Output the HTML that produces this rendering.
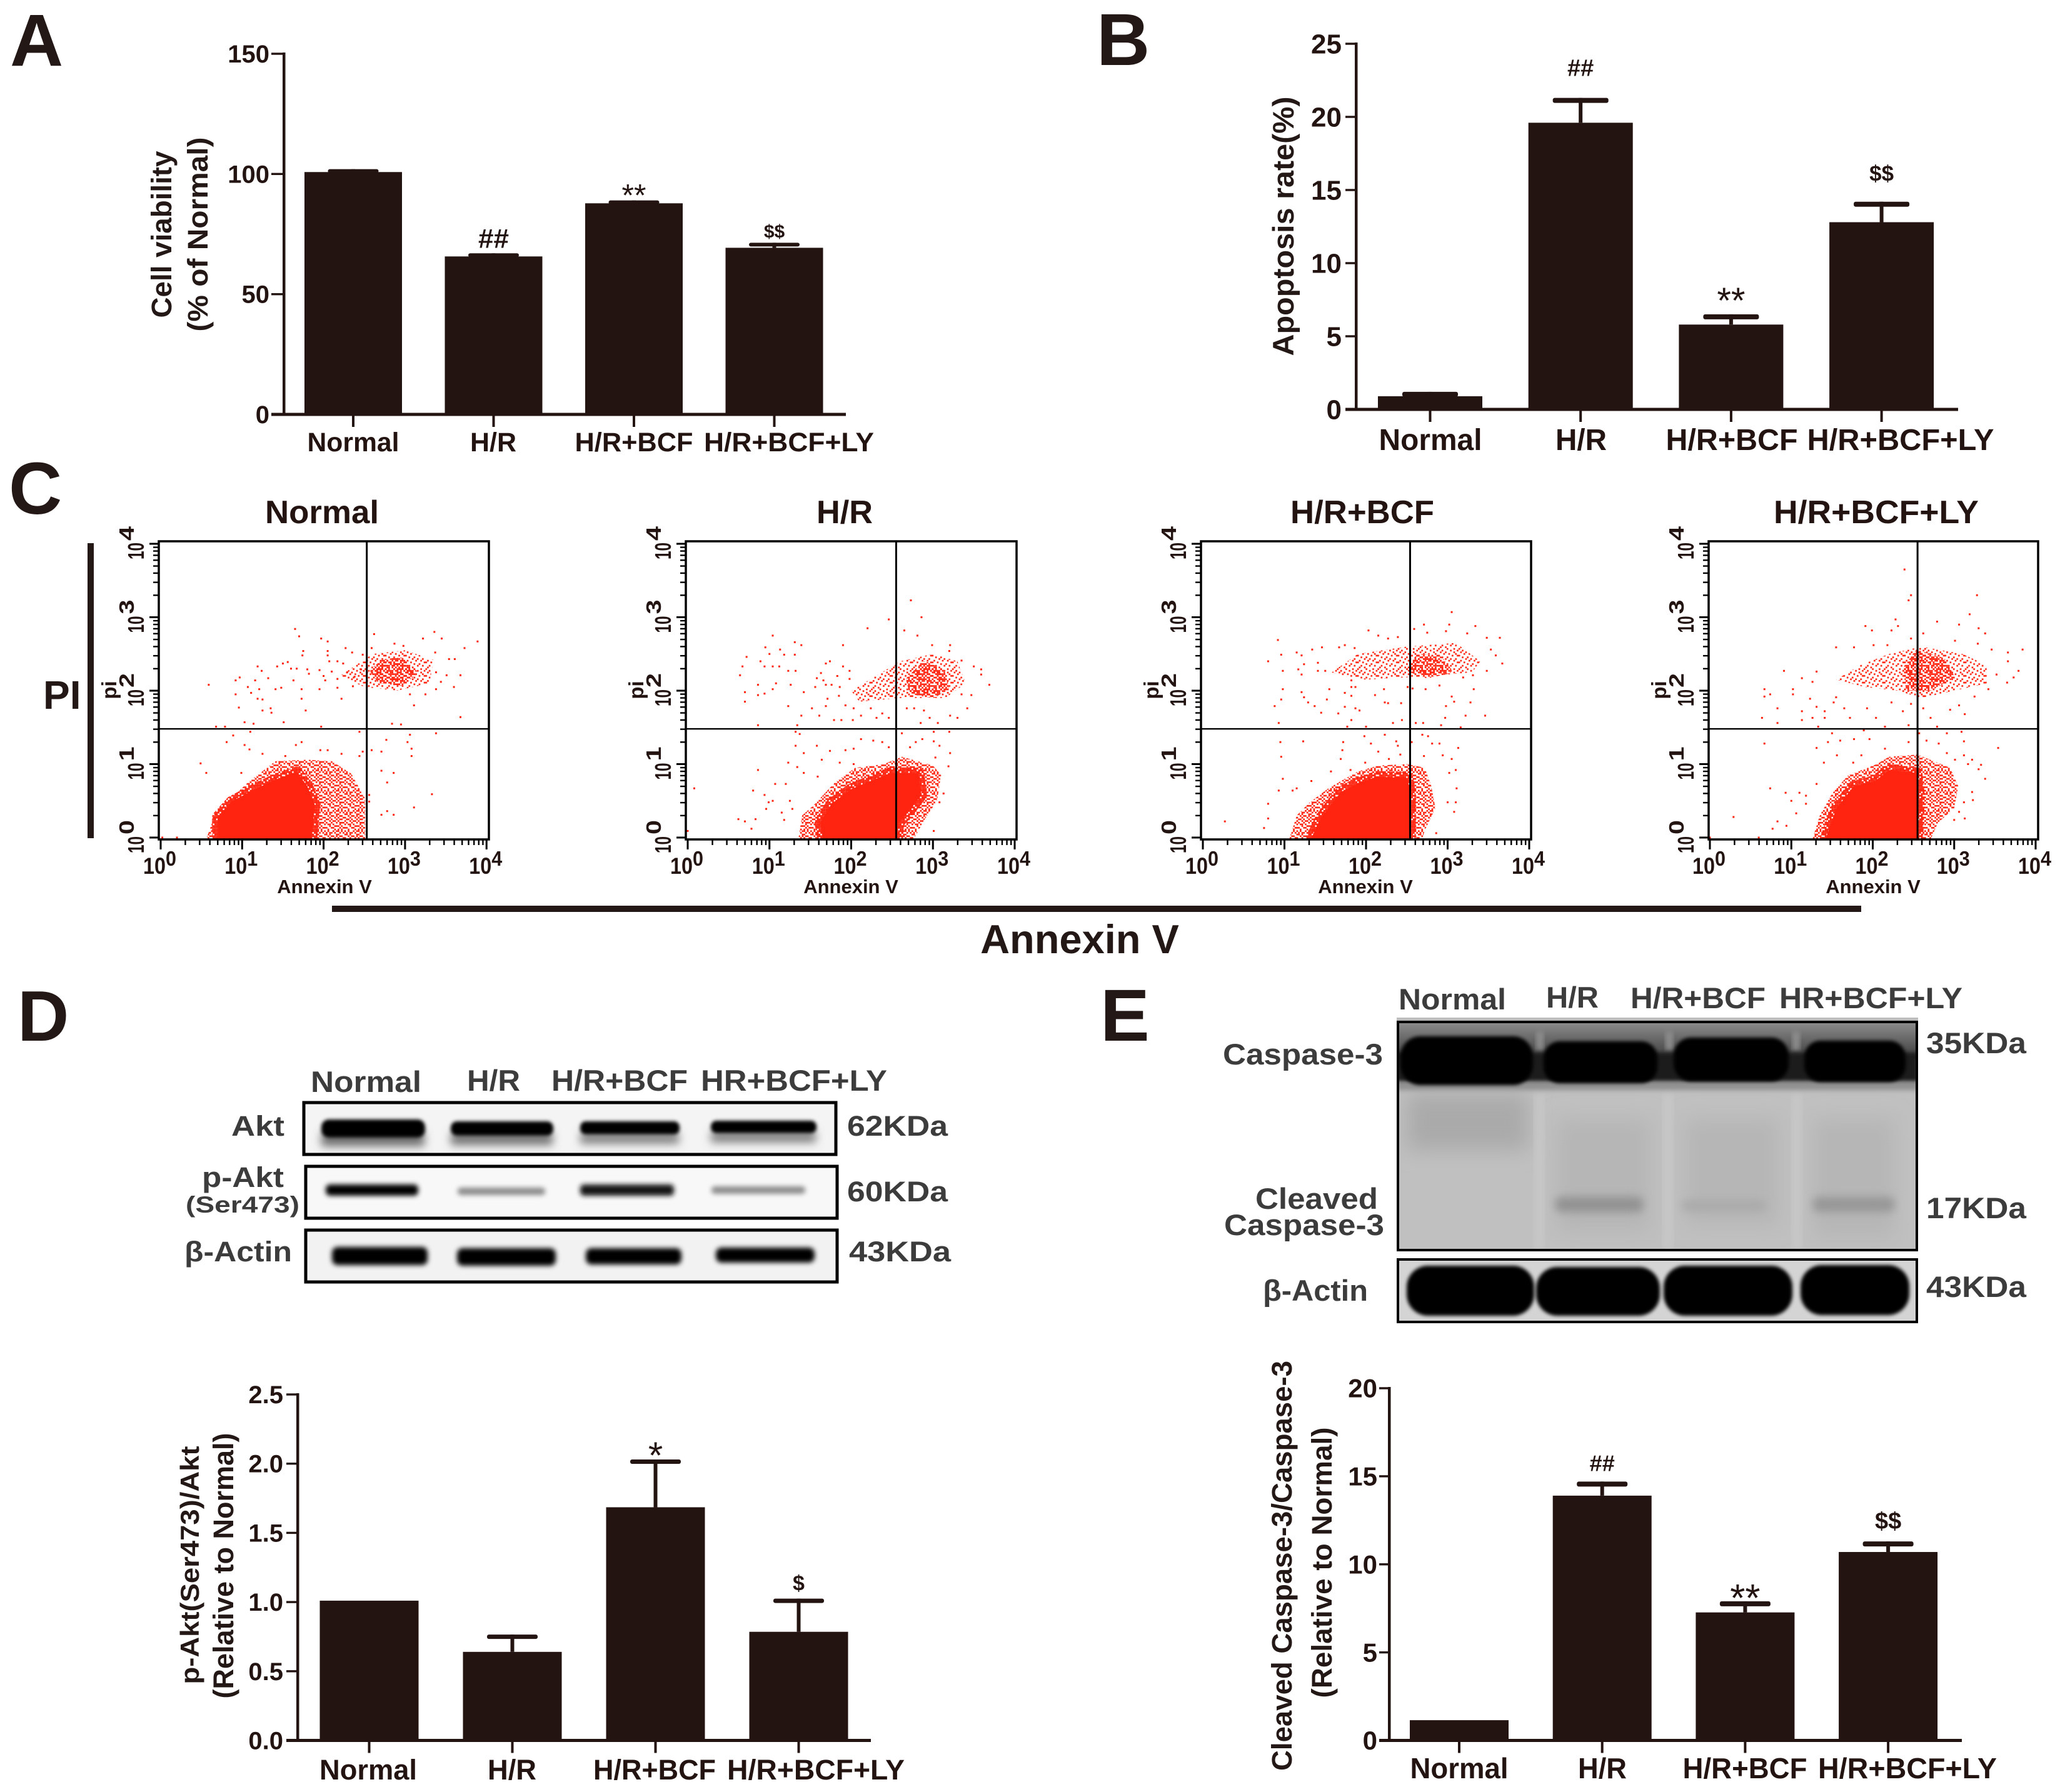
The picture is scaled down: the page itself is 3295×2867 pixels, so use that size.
<!DOCTYPE html>
<html lang="en">
<head>
<meta charset="utf-8">
<title>Cell viability, apoptosis and western blot figure</title>
<style>
html,body{margin:0;padding:0;background:#fff;}
#figure{display:block;width:3295px;height:2867px;font-family:"Liberation Sans",Arial,sans-serif;font-weight:bold;}
.lbl{fill:#231815;}
.blot{fill:#3c3c3c;}
</style>
</head>
<body>
<svg id="figure" xmlns="http://www.w3.org/2000/svg" width="3295" height="2867" viewBox="0 0 3295 2867">
<defs>
<filter id="b2" x="-20%" y="-50%" width="140%" height="200%"><feGaussianBlur stdDeviation="2"/></filter>
<filter id="b3" x="-20%" y="-60%" width="140%" height="220%"><feGaussianBlur stdDeviation="3"/></filter>
<filter id="b4" x="-20%" y="-80%" width="140%" height="260%"><feGaussianBlur stdDeviation="4"/></filter>
<filter id="b7" x="-30%" y="-120%" width="160%" height="340%"><feGaussianBlur stdDeviation="7"/></filter>
<filter id="b16" x="-40%" y="-40%" width="180%" height="180%"><feGaussianBlur stdDeviation="16"/></filter>
<pattern id="ditherDense" patternUnits="userSpaceOnUse" width="32.4" height="32.4"></pattern>
<pattern id="ditherMedium" patternUnits="userSpaceOnUse" width="32.4" height="32.4"></pattern>
<pattern id="ditherSparse" patternUnits="userSpaceOnUse" width="32.4" height="32.4"></pattern>
<clipPath id="clipD1"><rect x="484" y="1762" width="855" height="87"/></clipPath>
<clipPath id="clipD2"><rect x="487" y="1864" width="854" height="86"/></clipPath>
<clipPath id="clipD3"><rect x="487" y="1966" width="854" height="87"/></clipPath>
<clipPath id="clipE1"><rect x="2234" y="1634" width="834" height="367"/></clipPath>
<clipPath id="clipE2"><rect x="2234" y="2013" width="834" height="103"/></clipPath>
<linearGradient id="eTop" x1="0" y1="0" x2="0" y2="1"><stop offset="0" stop-color="#8f8f8f"/><stop offset="1" stop-color="#3c3c3c"/></linearGradient>
</defs>

<!-- Panel letters -->
<text class="lbl" x="16" y="105" font-size="118">A</text>
<text class="lbl" x="1754" y="104" font-size="118">B</text>
<text class="lbl" x="14" y="822" font-size="118">C</text>
<text class="lbl" x="28" y="1665" font-size="114">D</text>
<text class="lbl" x="1760" y="1665" font-size="118">E</text>

<!-- Y axis titles -->
<text class="lbl" transform="translate(274,375) rotate(-90)" text-anchor="middle" font-size="45" textLength="267" lengthAdjust="spacingAndGlyphs">Cell viability</text>
<text class="lbl" transform="translate(332,375) rotate(-90)" text-anchor="middle" font-size="45" textLength="311" lengthAdjust="spacingAndGlyphs">(% of Normal)</text>
<text class="lbl" transform="translate(2069,362) rotate(-90)" text-anchor="middle" font-size="47" textLength="415" lengthAdjust="spacingAndGlyphs">Apoptosis rate(%)</text>
<text class="lbl" transform="translate(318,2504) rotate(-90)" text-anchor="middle" font-size="42" textLength="381" lengthAdjust="spacingAndGlyphs">p-Akt(Ser473)/Akt</text>
<text class="lbl" transform="translate(373,2505) rotate(-90)" text-anchor="middle" font-size="45" textLength="425" lengthAdjust="spacingAndGlyphs">(Relative to Normal)</text>
<text class="lbl" transform="translate(2066,2505) rotate(-90)" text-anchor="middle" font-size="45" textLength="656" lengthAdjust="spacingAndGlyphs">Cleaved Caspase-3/Caspase-3</text>
<text class="lbl" transform="translate(2130,2500) rotate(-90)" text-anchor="middle" font-size="45" textLength="433" lengthAdjust="spacingAndGlyphs">(Relative to Normal)</text>

<!-- Flow cytometry frame labels -->
<text class="lbl" x="69" y="1134" font-size="64">PI</text>
<rect x="140" y="869" width="10" height="472" fill="#231815"/>
<rect x="531" y="1449" width="2446" height="10" fill="#231815"/>
<text class="lbl" x="1727" y="1525" text-anchor="middle" font-size="65">Annexin V</text>

<!-- Western blot D -->
<g>
<rect x="484" y="1762" width="855" height="87" fill="#f4f4f4"/>
<g clip-path="url(#clipD1)">
<rect x="514" y="1812" width="165" height="22" fill="#6e6e6e" filter="url(#b7)"/><rect x="721" y="1812" width="163" height="20" fill="#727272" filter="url(#b7)"/><rect x="928" y="1812" width="158" height="18" fill="#808080" filter="url(#b7)"/><rect x="1137" y="1810" width="168" height="18" fill="#808080" filter="url(#b7)"/>
<rect x="514" y="1791" width="166" height="29" rx="12" fill="#000" filter="url(#b3)"/>
<rect x="721" y="1794" width="164" height="23" rx="10" fill="#000" filter="url(#b3)"/>
<rect x="928" y="1794" width="159" height="21" rx="9" fill="#000" filter="url(#b3)"/>
<rect x="1137" y="1793" width="169" height="20" rx="9" fill="#000" filter="url(#b3)"/>
</g>
<rect x="486" y="1764" width="851" height="83" fill="none" stroke="#000" stroke-width="5"/>
<rect x="487" y="1864" width="854" height="86" fill="#f8f8f8"/>
<g clip-path="url(#clipD2)">
<rect x="521" y="1895" width="148" height="18" rx="7" fill="#000" filter="url(#b4)"/>
<rect x="732" y="1900" width="140" height="12" rx="5" fill="#8c8c8c" filter="url(#b4)"/>
<rect x="928" y="1895" width="150" height="18" rx="6" fill="#151515" filter="url(#b4)"/>
<rect x="1138" y="1898" width="150" height="12" rx="5" fill="#8c8c8c" filter="url(#b4)"/>
</g>
<rect x="489" y="1866" width="850" height="83" fill="none" stroke="#000" stroke-width="5"/>
<rect x="487" y="1966" width="854" height="87" fill="#f2f2f2"/>
<g clip-path="url(#clipD3)">
<rect x="531" y="1995" width="153" height="29" rx="9" fill="#000" filter="url(#b4)"/>
<rect x="731" y="1997" width="158" height="28" rx="9" fill="#000" filter="url(#b4)"/>
<rect x="937" y="1997" width="153" height="26" rx="9" fill="#000" filter="url(#b4)"/>
<rect x="1145" y="1996" width="158" height="24" rx="9" fill="#000" filter="url(#b4)"/>
</g>
<rect x="489" y="1968" width="850" height="83" fill="none" stroke="#000" stroke-width="5"/>
</g>
<text class="blot" x="497" y="1747" font-size="47" textLength="177" lengthAdjust="spacingAndGlyphs">Normal</text>
<text class="blot" x="747" y="1745" font-size="47" textLength="85" lengthAdjust="spacingAndGlyphs">H/R</text>
<text class="blot" x="882" y="1745" font-size="47" textLength="218" lengthAdjust="spacingAndGlyphs">H/R+BCF</text>
<text class="blot" x="1121" y="1745" font-size="47" textLength="298" lengthAdjust="spacingAndGlyphs">HR+BCF+LY</text>
<text class="blot" x="370" y="1817" font-size="45" textLength="85" lengthAdjust="spacingAndGlyphs">Akt</text>
<text class="blot" x="323" y="1899" font-size="45" textLength="131" lengthAdjust="spacingAndGlyphs">p-Akt</text>
<text class="blot" x="297" y="1940" font-size="37" textLength="182" lengthAdjust="spacingAndGlyphs">(Ser473)</text>
<text class="blot" x="295" y="2018" font-size="45" textLength="172" lengthAdjust="spacingAndGlyphs" font-family="'Liberation Sans','DejaVu Sans',sans-serif">β-Actin</text>
<text class="blot" x="1355" y="1817" font-size="45" textLength="161" lengthAdjust="spacingAndGlyphs">62KDa</text>
<text class="blot" x="1355" y="1922" font-size="45" textLength="161" lengthAdjust="spacingAndGlyphs">60KDa</text>
<text class="blot" x="1358" y="2018" font-size="45" textLength="163" lengthAdjust="spacingAndGlyphs">43KDa</text>

<!-- Western blot E -->
<g>
<rect x="2234" y="1628" width="834" height="7" fill="#bdbdbd"/>
<rect x="2234" y="1634" width="834" height="367" fill="#c0c0c0"/>
<g clip-path="url(#clipE1)">
<rect x="2250" y="1750" width="195" height="90" fill="#aaaaaa" filter="url(#b16)"/>
<rect x="2490" y="1790" width="150" height="180" fill="#b6b6b6" filter="url(#b16)"/>
<rect x="2695" y="1790" width="150" height="170" fill="#b6b6b6" filter="url(#b16)"/>
<rect x="2900" y="1790" width="130" height="190" fill="#b6b6b6" filter="url(#b16)"/>
<rect x="2456" y="1750" width="12" height="250" fill="#cacaca" filter="url(#b7)"/>
<rect x="2662" y="1750" width="12" height="250" fill="#cacaca" filter="url(#b7)"/>
<rect x="2868" y="1750" width="12" height="250" fill="#cacaca" filter="url(#b7)"/>
<rect x="2234" y="1634" width="834" height="60" fill="url(#eTop)"/>
<rect x="2457" y="1650" width="12" height="30" fill="#8c8c8c" filter="url(#b4)"/>
<rect x="2664" y="1650" width="12" height="30" fill="#8c8c8c" filter="url(#b4)"/>
<rect x="2867" y="1650" width="12" height="30" fill="#8c8c8c" filter="url(#b4)"/>
<rect x="2234" y="1730" width="834" height="14" fill="#8f8f8f" filter="url(#b4)"/>
<rect x="2234" y="1684" width="834" height="46" fill="#1a1a1a" filter="url(#b3)"/>
<rect x="2240" y="1658" width="212" height="78" rx="32" fill="#000" filter="url(#b3)"/>
<rect x="2469" y="1666" width="182" height="67" rx="26" fill="#000" filter="url(#b3)"/>
<rect x="2677" y="1660" width="184" height="70" rx="28" fill="#000" filter="url(#b3)"/>
<rect x="2886" y="1665" width="162" height="66" rx="26" fill="#000" filter="url(#b3)"/>
<rect x="2488" y="1915" width="140" height="24" rx="8" fill="#929292" filter="url(#b7)"/>
<rect x="2690" y="1920" width="135" height="18" rx="8" fill="#aaaaaa" filter="url(#b7)"/>
<rect x="2900" y="1915" width="130" height="24" rx="8" fill="#979797" filter="url(#b7)"/>
</g>
<rect x="2236" y="1635" width="830" height="365" fill="none" stroke="#000" stroke-width="4"/>
<rect x="2234" y="2013" width="834" height="103" fill="#d4d4d4"/>
<g clip-path="url(#clipE2)">
<rect x="2250" y="2025" width="204" height="80" rx="34" fill="#000" filter="url(#b3)"/>
<rect x="2457" y="2027" width="198" height="78" rx="34" fill="#000" filter="url(#b3)"/>
<rect x="2661" y="2025" width="206" height="80" rx="34" fill="#000" filter="url(#b3)"/>
<rect x="2880" y="2024" width="174" height="80" rx="34" fill="#000" filter="url(#b3)"/>
</g>
<rect x="2236" y="2015" width="830" height="100" fill="none" stroke="#000" stroke-width="4"/>
</g>
<text class="blot" x="2237" y="1615" font-size="47" textLength="172" lengthAdjust="spacingAndGlyphs">Normal</text>
<text class="blot" x="2473" y="1612" font-size="47" textLength="84" lengthAdjust="spacingAndGlyphs">H/R</text>
<text class="blot" x="2608" y="1613" font-size="47" textLength="216" lengthAdjust="spacingAndGlyphs">H/R+BCF</text>
<text class="blot" x="2846" y="1613" font-size="47" textLength="293" lengthAdjust="spacingAndGlyphs">HR+BCF+LY</text>
<text class="blot" x="1956" y="1703" font-size="47" textLength="256" lengthAdjust="spacingAndGlyphs">Caspase-3</text>
<text class="blot" x="2008" y="1934" font-size="47" textLength="196" lengthAdjust="spacingAndGlyphs">Cleaved</text>
<text class="blot" x="1958" y="1976" font-size="47" textLength="256" lengthAdjust="spacingAndGlyphs">Caspase-3</text>
<text class="blot" x="2020" y="2081" font-size="47" textLength="168" lengthAdjust="spacingAndGlyphs" font-family="'Liberation Sans','DejaVu Sans',sans-serif">β-Actin</text>
<text class="blot" x="3081" y="1685" font-size="47" textLength="160" lengthAdjust="spacingAndGlyphs">35KDa</text>
<text class="blot" x="3081" y="1949" font-size="47" textLength="160" lengthAdjust="spacingAndGlyphs">17KDa</text>
<text class="blot" x="3081" y="2075" font-size="47" textLength="160" lengthAdjust="spacingAndGlyphs">43KDa</text>

<g id="charts"></g>
<g id="flows"></g>
</svg>

<script>
// ---------- Bar chart data ----------
const categories = ['Normal', 'H/R', 'H/R+BCF', 'H/R+BCF+LY'];

const viabilityValues = [100.8, 65.7, 87.8, 69.3];
const viabilityErrorTops = [102.0, 67.0, 89.0, 71.4];
const viabilityMarks = ['', '##', '**', '$$'];
const viabilityTicks = [0, 50, 100, 150];
const viabilityTickLabels = ['0', '50', '100', '150'];

const apoptosisValues = [0.9, 19.6, 5.8, 12.8];
const apoptosisErrorTops = [1.2, 21.3, 6.5, 14.2];
const apoptosisMarks = ['', '##', '**', '$$'];
const apoptosisTicks = [0, 5, 10, 15, 20, 25];
const apoptosisTickLabels = ['0', '5', '10', '15', '20', '25'];

const pAktValues = [1.01, 0.64, 1.685, 0.785];
const pAktErrorTops = [null, 0.765, 2.03, 1.025];
const pAktMarks = ['', '', '*', '$'];
const pAktTicks = [0, 0.5, 1, 1.5, 2, 2.5];
const pAktTickLabels = ['0.0', '0.5', '1.0', '1.5', '2.0', '2.5'];

const cleavedValues = [1.15, 13.9, 7.27, 10.7];
const cleavedErrorTops = [null, 14.7, 7.9, 11.3];
const cleavedMarks = ['', '##', '**', '$$'];
const cleavedTicks = [0, 5, 10, 15, 20];
const cleavedTickLabels = ['0', '5', '10', '15', '20'];

// ---------- Flow cytometry data (log10 decades: [Annexin V, PI]) ----------
const normalCore = [[.70,-.05],[.70,.28],[.87,.49],[1.16,.66],[1.41,.79],[1.67,.89],[1.80,.70],[1.89,.45],[1.85,-.05]];
const normalFringe = [[.55,-.05],[.67,.32],[1.07,.75],[1.41,1.04],[1.80,1.06],[2.10,1.04],[2.34,.87],[2.51,.53],[2.51,-.05]];
const normalUpperCore = [[2.62,2.27],[2.75,2.38],[2.95,2.40],[3.10,2.25],[2.95,2.12],[2.70,2.15]];
const normalUpperFringe = [[2.2,2.2],[2.6,2.5],[3.0,2.55],[3.35,2.42],[3.3,2.1],[2.9,2.0],[2.5,2.05]];
const normalEvents = [[.59,2.08],[1.65,2.84],[1.70,2.74],[1.97,2.71],[2.05,2.67],[1.75,2.54],[1.74,2.48],[2.05,2.54],[2.05,2.48],[2.27,2.58],[2.35,2.52],[2.48,2.49],[2.62,2.77],[2.59,2.58],[2.87,2.64],[2.98,2.61],[3.22,2.71],[3.36,2.80],[3.45,2.71],[3.37,2.52],[3.54,2.43],[3.61,2.43],[3.73,2.58],[3.89,2.67],[.92,2.14],[.97,2.18],[1.16,2.14],[1.32,2.17],[1.19,2.33],[1.24,2.27],[1.43,2.33],[1.50,2.37],[1.56,2.39],[1.60,2.30],[1.67,2.30],[1.80,2.29],[1.82,2.23],[1.95,2.28],[2.0,2.2],[2.02,2.14],[2.10,2.26],[2.07,2.40],[2.17,2.40],[2.24,2.37],[2.17,2.16],[2.29,2.25],[2.38,2.19],[2.46,2.29],[2.36,2.06],[2.17,2.04],[1.95,2.02],[1.73,2.02],[1.63,2.14],[1.48,2.04],[1.41,2.02],[1.21,2.02],[1.07,2.05],[1.11,1.97],[1.19,1.89],[1.25,1.88],[.92,1.95],[.96,1.77],[1.25,1.73],[1.35,1.76],[1.36,1.70],[1.73,1.89],[1.78,1.73],[2.22,1.89],[1.51,1.57],[1.03,1.57],[1.14,1.55],[.79,1.51],[.68,1.51],[1.97,1.51],[2.84,1.55],[2.95,1.54],[3.11,1.80],[3.68,1.64],[3.25,1.95],[3.06,1.95],[3.38,2.02],[3.60,2.05],[3.68,2.21],[3.44,2.12],[3.51,2.21],[3.38,2.25],[1.10,1.44],[.89,1.39],[.81,1.30],[1.03,1.26],[1.09,1.20],[1.66,1.26],[1.73,1.30],[1.25,1.14],[1.53,1.11],[1.96,1.19],[2.05,1.19],[2.22,1.14],[2.44,1.44],[2.44,1.11],[2.48,1.17],[2.59,1.19],[2.71,1.17],[2.77,1.33],[3.03,1.30],[3.06,1.40],[3.08,1.21],[3.08,1.11],[3.38,1.42],[.49,1.01],[.56,.88],[.99,.88],[2.71,.91],[2.86,.88],[2.78,.75],[3.33,.59],[3.11,.41],[2.78,.36],[2.71,.31],[2.86,.31],[2.56,.49],[2.56,.58],[.2,0],[.02,0]];

const hrCore = [[1.66,-.05],[1.62,.2],[1.76,.46],[2.0,.66],[2.24,.77],[2.48,.88],[2.82,.88],[2.86,.58],[2.70,.35],[2.58,.2],[2.56,-.05]];
const hrFringe = [[1.35,-.05],[1.40,.3],[1.55,.45],[1.80,.75],[2.05,.95],[2.4,1.0],[2.62,1.1],[3.0,.98],[3.1,.85],[3.05,.5],[2.9,.25],[2.75,-.05]];
const hrUpperCore = [[2.72,2.15],[2.9,2.35],[3.1,2.25],[3.15,2.05],[3.0,1.95],[2.75,2.0]];
const hrUpperFringe = [[2.0,2.0],[2.3,2.2],[2.6,2.4],[3.0,2.5],[3.3,2.4],[3.4,2.1],[3.15,1.9],[2.6,1.9],[2.1,1.85]];
const hrEvents = [[2.73,3.23],[2.86,3.0],[2.46,2.97],[2.2,2.85],[2.65,2.82],[1.04,2.75],[2.81,2.75],[1.31,2.66],[1.39,2.62],[.95,2.59],[1.13,2.56],[1.0,2.5],[1.18,2.49],[1.31,2.49],[.72,2.46],[.67,2.33],[.89,2.4],[.94,2.33],[1.04,2.33],[1.12,2.33],[1.23,2.27],[1.32,2.27],[.64,2.21],[.86,2.08],[.7,1.98],[1.08,2.1],[1.04,2.02],[1.26,2.08],[.86,1.94],[.94,1.96],[.7,1.85],[1.23,1.79],[1.39,1.66],[1.61,1.66],[1.42,1.98],[1.69,2.37],[1.74,2.4],[1.63,2.24],[1.58,2.17],[1.66,2.14],[1.56,2.05],[1.69,2.08],[1.76,2.08],[1.86,2.05],[1.83,2.2],[1.9,2.33],[1.9,2.62],[1.98,2.27],[1.98,2.16],[1.71,1.89],[1.85,1.93],[1.69,1.79],[1.93,1.8],[1.52,1.76],[1.79,1.6],[1.88,1.6],[2.02,1.6],[2.12,1.66],[2.03,1.76],[2.24,1.76],[2.38,1.69],[2.31,1.63],[2.46,1.63],[.86,1.53],[1.34,1.53],[1.32,1.44],[1.37,1.41],[1.32,1.25],[1.58,1.25],[1.42,1.15],[1.74,1.18],[1.64,1.06],[1.23,1.02],[1.34,.96],[.86,.92],[1.42,.88],[1.59,.83],[1.07,.73],[.8,.64],[.08,.67],[0,.09],[.62,.25],[.7,.22],[.83,.25],[.78,.12],[.96,.39],[.94,.58],[.99,.48],[1.04,.5],[1.2,.73],[1.15,.34],[1.18,.24],[1.25,.5],[1.28,.39],[3.2,2.54],[3.21,2.62],[2.99,2.62],[3.42,1.76],[3.3,1.63],[3.21,1.66],[3.35,1.95],[3.47,1.94],[3.69,2.08],[3.59,2.22],[3.59,2.29],[3.5,2.33],[3.35,2.41],[2.68,1.76],[2.77,1.76],[2.89,1.73],[2.96,1.63],[3.06,1.56],[2.85,1.56],[3.01,1.44],[3.2,1.44],[3.01,1.31],[3.08,1.25],[3.21,1.15],[3.19,.97],[3.03,1.09],[2.87,1.34],[2.79,1.3],[2.72,1.23],[2.62,1.42],[2.46,1.23],[2.38,1.3],[2.27,1.32],[2.12,1.34],[2.03,1.21],[1.93,1.19],[1.86,1.02],[2.03,1.0],[3.13,.6],[3.08,.48],[3.01,.09]];

const hrBcfCore = [[1.31,-.05],[1.45,.27],[1.69,.62],[1.89,.73],[2.13,.83],[2.51,.81],[2.54,.58],[2.54,-.05]];
const hrBcfFringe = [[1.05,-.05],[1.15,.3],[1.3,.47],[1.55,.68],[1.9,.9],[2.15,.98],[2.5,1.0],[2.72,.95],[2.8,.7],[2.85,.4],[2.72,.1],[2.68,-.05]];
const hrBcfUpperCore = [[2.55,2.3],[2.65,2.45],[2.9,2.42],[3.0,2.28],[2.75,2.22]];
const hrBcfUpperFringe = [[1.58,2.25],[1.9,2.5],[2.5,2.6],[3.1,2.65],[3.4,2.4],[3.3,2.25],[2.8,2.2],[2.0,2.15],[1.7,2.2]];
const hrBcfEvents = [[3.05,3.07],[3.02,2.9],[2.98,2.81],[3.34,2.88],[3.24,2.78],[2.71,2.9],[2.75,2.79],[2.59,2.84],[2.03,2.82],[2.15,2.75],[2.27,2.71],[2.39,2.73],[.92,2.69],[.96,2.49],[1.15,2.52],[1.21,2.48],[1.34,2.56],[1.46,2.59],[.8,2.4],[.98,2.27],[1.17,2.29],[1.24,2.36],[1.21,2.22],[1.41,2.38],[1.41,2.27],[1.5,2.27],[1.67,2.59],[1.74,2.62],[1.86,2.58],[3.48,2.72],[3.64,2.72],[3.53,2.56],[3.59,2.48],[3.67,2.37],[3.48,2.27],[3.31,2.21],[3.19,2.18],[.98,2.02],[1.21,1.98],[1.55,2.02],[1.24,1.91],[1.29,1.84],[.88,1.79],[.96,1.88],[1.37,1.79],[1.52,1.88],[1.45,1.7],[.93,1.56],[1.66,1.69],[1.74,1.78],[1.74,1.97],[1.82,2.14],[1.82,2.05],[1.87,2.05],[1.82,1.93],[1.87,1.76],[1.92,1.73],[1.77,1.51],[1.82,1.6],[2.0,1.51],[2.11,1.94],[2.22,2.02],[2.23,1.84],[2.27,1.83],[2.43,1.83],[2.33,1.56],[2.44,1.6],[2.51,2.05],[2.57,2.03],[2.73,2.02],[2.61,1.56],[2.7,1.56],[2.9,2.07],[3.05,1.92],[3.08,1.85],[2.98,1.79],[3.28,1.84],[3.32,2.02],[3.22,1.66],[3.46,1.66],[2.97,1.63],[2.92,1.53],[3.16,1.5],[.95,1.3],[1.23,1.31],[.96,1.1],[.98,.8],[.93,.64],[1.1,.64],[1.15,.67],[1.33,.77],[.27,.22],[.8,.46],[.8,.26],[.75,.13],[1.72,1.3],[1.71,1.19],[1.98,1.38],[2.06,1.28],[2.23,1.4],[2.37,1.31],[2.39,1.25],[2.56,1.3],[2.69,1.4],[2.76,1.38],[2.81,1.28],[2.9,1.28],[3.13,1.22],[2.94,1.12],[3.05,1.07],[3.1,.92],[3.02,.88],[3.11,.67],[3.0,.48],[3.1,.48],[3.08,.35],[2.86,.06],[1.69,1.07],[1.57,.9],[1.81,.92],[2.15,1.17],[1.99,1.02],[2.28,1.07],[2.42,1.13],[2.71,1.11]];

const hrBcfLyCore = [[1.41,-.05],[1.55,.39],[1.76,.69],[2.03,.77],[2.2,.92],[2.54,.88],[2.57,.58],[2.55,-.05]];
const hrBcfLyFringe = [[1.25,-.05],[1.35,.3],[1.5,.6],[1.7,.85],[2.05,1.0],[2.2,1.1],[2.55,1.13],[2.95,.95],[3.05,.7],[3.0,.4],[2.8,.2],[2.7,-.05]];
const hrBcfLyUpperCore = [[2.45,2.05],[2.42,2.3],[2.55,2.5],[2.85,2.4],[2.95,2.2],[2.7,2.05]];
const hrBcfLyUpperFringe = [[1.55,2.15],[1.85,2.35],[2.2,2.5],[2.6,2.6],[3.1,2.5],[3.4,2.35],[3.4,2.1],[3.0,2.0],[2.6,1.9],[2.3,2.0],[1.9,2.05]];
const hrBcfLyEvents = [[2.39,3.65],[2.47,3.3],[2.44,3.23],[3.28,3.3],[3.19,3.04],[2.79,2.94],[3.06,2.9],[2.28,2.97],[2.31,2.88],[1.91,2.88],[1.99,2.82],[2.23,2.82],[3.3,2.85],[3.38,2.78],[2.62,2.78],[2.47,2.71],[2.01,2.62],[1.55,2.59],[1.77,2.59],[2.18,2.62],[3.01,2.68],[3.29,2.64],[3.46,2.56],[3.84,2.56],[3.66,2.52],[3.66,2.4],[3.79,2.27],[3.73,2.18],[3.65,2.11],[3.52,2.22],[3.42,2.02],[3.25,1.92],[.91,2.27],[1.13,2.17],[1.31,2.26],[1.26,2.12],[.67,2.02],[.67,1.92],[.74,1.95],[1.02,2.02],[1.02,1.95],[.83,1.76],[.83,1.56],[.64,1.63],[1.13,1.72],[1.13,1.6],[1.23,1.89],[1.26,1.63],[1.31,1.78],[1.41,1.72],[1.41,1.63],[1.52,1.84],[1.55,1.91],[1.65,1.76],[1.72,1.63],[1.93,1.76],[2.04,1.63],[2.23,1.84],[2.37,1.72],[2.47,1.82],[2.62,1.76],[2.71,1.63],[2.95,1.74],[3.06,1.8],[3.13,1.68],[1.33,1.51],[1.5,1.42],[1.89,1.46],[2.15,1.51],[2.44,1.53],[2.79,1.51],[2.91,1.42],[3.09,1.44],[.67,1.28],[1.31,1.22],[1.45,1.3],[1.6,1.32],[1.77,1.34],[1.96,1.34],[2.44,1.3],[2.57,1.42],[2.66,1.32],[2.81,1.28],[3.12,1.31],[3.54,1.22],[1.4,1.02],[1.56,1.12],[1.76,1.02],[1.86,1.12],[2.15,1.21],[2.91,1.15],[3.12,1.12],[3.01,1.06],[3.22,1.06],[3.17,1.0],[3.33,.99],[3.3,.93],[3.38,.8],[1.31,.73],[.74,.67],[.93,.61],[1.1,.61],[1.18,.57],[1.0,.5],[1.18,.46],[1.06,.33],[.29,.28],[.83,.22],[.77,.12],[.94,.16],[3.13,.26],[3.0,.24],[3.12,.48],[3.22,.62],[3.23,.51],[3.06,.35],[0,0],[.6,0]];

const flowTitles = ['Normal', 'H/R', 'H/R+BCF', 'H/R+BCF+LY'];
const flowGatesX = [2.53, 2.55, 2.54, 2.55];
const flowGatesY = [1.48, 1.48, 1.48, 1.48];
const decadeLabels = ['0', '1', '2', '3', '4'];

// ---------- Event-grid textures for the dense populations ----------
const denseTexture = ['111011110111','101110111101','110111011011','011101101110','111110111011','101011110111','110111010110','011101111101','111011011011','101111101110','110110111011','011101010111'];
const mediumTexture = ['101001011010','010110100101','110100011000','001011010110','100100101001','011010010110','100101101000','010010010111','101101000100','000100111010','110011000101','001000101010'];
const sparseTexture = ['100001000100','001000010001','010010000100','000100100010','100000001001','001001000000','000010010010','010000100100','100100000001','000001001000','001000010010','010010000000'];

// ---------- Drawing ----------
const SVGNS = 'http://www.w3.org/2000/svg';
const INK = '#231412';
const RED = '#ff2410';

function make(parent, tag, attrs, content) {
  const node = document.createElementNS(SVGNS, tag);
  for (const key in attrs) node.setAttribute(key, attrs[key]);
  if (content !== undefined) node.textContent = content;
  parent.appendChild(node);
  return node;
}

function fillTexture(id, rows) {
  const pattern = document.getElementById(id);
  rows.forEach((row, r) => {
    row.split('').forEach((cell, c) => {
      if (cell === '1') make(pattern, 'rect', { x: c * 2.7, y: r * 2.7, width: 2.7, height: 2.7, fill: RED });
    });
  });
}
fillTexture('ditherDense', denseTexture);
fillTexture('ditherMedium', mediumTexture);
fillTexture('ditherSparse', sparseTexture);

function drawBarChart(cfg) {
  const root = document.getElementById('charts');
  const g = make(root, 'g', {});
  
  
  const yScale = v => cfg.y0 + (cfg.yTop - cfg.y0) * (v - cfg.ticks[0]) / (cfg.ticks[cfg.ticks.length - 1] - cfg.ticks[0]);
  const xScale = i => cfg.x0 + cfg.step * i;

  cfg.values.forEach((value, i) => {
    const cx = xScale(i);
    const errTop = cfg.errorTops[i];
    if (errTop !== null) {
      const stem = make(g, 'rect', { x: cx - 3, y: yScale(errTop), width: 6, height: yScale(value) - yScale(errTop), fill: INK });
      
      
      const cap = make(g, 'rect', { x: cx - cfg.capW / 2, y: yScale(errTop), width: cfg.capW, height: cfg.capH, rx: 3, fill: INK });
      
      
    }
    const bar = make(g, 'rect', { x: cx - cfg.barW / 2, y: yScale(value), width: cfg.barW, height: cfg.y0 - yScale(value), fill: INK });
    
    
    if (cfg.marks[i]) {
      const anchor = errTop !== null ? errTop : value;
      const mark = make(g, 'text', { x: cx, y: yScale(anchor) - cfg.markLift[i], 'text-anchor': 'middle', 'font-size': cfg.markSize[i], 'font-weight': cfg.marks[i].includes('*') ? 'normal' : 'bold', fill: INK }, cfg.marks[i]);
      
      
    }
  });

  const yAxis = make(g, 'rect', { x: cfg.axisX - 2, y: yScale(cfg.ticks[cfg.ticks.length - 1]) - 2, width: 4.5, height: cfg.y0 - yScale(cfg.ticks[cfg.ticks.length - 1]) + 4, fill: INK });
  
  
  const xAxis = make(g, 'rect', { x: cfg.axisLeft, y: cfg.y0 - 2.5, width: cfg.axisRight - cfg.axisLeft, height: 5, fill: INK });
  
  

  cfg.ticks.forEach((t, i) => {
    const tick = make(g, 'rect', { x: cfg.axisLeft, y: yScale(t) - 1.7, width: cfg.axisX - cfg.axisLeft, height: 3.4, fill: INK });
    
    
    const label = make(g, 'text', { x: cfg.axisLeft - cfg.tickGap, y: yScale(t) + cfg.tickFont * 0.35, 'text-anchor': 'end', 'font-size': cfg.tickFont, fill: INK }, cfg.tickLabels[i]);
    
    
  });

  categories.forEach((c, i) => {
    const tick = make(g, 'rect', { x: xScale(i) - 2, y: cfg.y0, width: 4, height: 20, fill: INK });
    
    
    const label = make(g, 'text', { x: cfg.labelX[i], y: cfg.labelY, 'text-anchor': 'middle', 'font-size': cfg.labelFont, textLength: cfg.labelLen[i], lengthAdjust: 'spacingAndGlyphs', fill: INK }, c);
    
    
  });
}

drawBarChart({ name: 'chart-a-cell-viability', values: viabilityValues, errorTops: viabilityErrorTops, marks: viabilityMarks, ticks: viabilityTicks, tickLabels: viabilityTickLabels,
  y0: 663, yTop: 86, x0: 565, step: 224.5, barW: 156, capW: 81, capH: 6, axisX: 454, axisLeft: 434, axisRight: 1353, tickFont: 40, tickGap: 3,
  markSize: [0, 44, 50, 30], markLift: [0, 9, -9, 8], labelX: [565, 789, 1014, 1262], labelY: 722, labelFont: 43, labelLen: [147, 74, 189, 272] });
drawBarChart({ name: 'chart-b-apoptosis-rate', values: apoptosisValues, errorTops: apoptosisErrorTops, marks: apoptosisMarks, ticks: apoptosisTicks, tickLabels: apoptosisTickLabels,
  y0: 655, yTop: 70, x0: 2287.5, step: 240.7, barW: 167, capW: 89, capH: 8, axisX: 2169, axisLeft: 2152, axisRight: 3132, tickFont: 44, tickGap: 6,
  markSize: [0, 38, 58, 35], markLift: [0, 35, 2, 33], labelX: [2288, 2529, 2770, 3040], labelY: 720, labelFont: 48, labelLen: [165, 82, 211, 299] });
drawBarChart({ name: 'chart-d-pakt-ratio', values: pAktValues, errorTops: pAktErrorTops, marks: pAktMarks, ticks: pAktTicks, tickLabels: pAktTickLabels,
  y0: 2784.5, yTop: 2231, x0: 590.5, step: 229, barW: 158, capW: 81, capH: 7, axisX: 476, axisLeft: 458, axisRight: 1393, tickFont: 40, tickGap: 5,
  markSize: [0, 0, 60, 34], markLift: [0, 0, -14, 13], labelX: [589, 819, 1047, 1305], labelY: 2847, labelFont: 45, labelLen: [156, 78, 196, 284] });
drawBarChart({ name: 'chart-e-cleaved-caspase-ratio', values: cleavedValues, errorTops: cleavedErrorTops, marks: cleavedMarks, ticks: cleavedTicks, tickLabels: cleavedTickLabels,
  y0: 2784.5, yTop: 2221, x0: 2334, step: 228.7, barW: 158, capW: 81, capH: 8, axisX: 2222, axisLeft: 2206, axisRight: 3138, tickFont: 42, tickGap: 3,
  markSize: [0, 36, 62, 38], markLift: [0, 17, -16, 20], labelX: [2334, 2563, 2791, 3051], labelY: 2845, labelFont: 46, labelLen: [157, 78, 199, 286] });

function drawFlowPanel(cfg, idx) {
  const root = document.getElementById('flows');
  const g = make(root, 'g', {});
  
  
  const xScale = d => cfg.tick0 + cfg.tickStep * d;
  const yScale = d => 1340 - 117.5 * d;
  const pointsAttr = poly => poly.map(p => xScale(p[0]).toFixed(1) + ',' + yScale(p[1]).toFixed(1)).join(' ');

  const clipId = 'flow-clip-' + cfg.slug;
  const clip = make(g, 'clipPath', { id: clipId });
  make(clip, 'rect', { x: cfg.left, y: 866, width: cfg.right - cfg.left, height: 477 });
  const layer = make(g, 'g', { 'clip-path': 'url(#' + clipId + ')' });
  
  

  const fringe = make(layer, 'polygon', { points: pointsAttr(cfg.fringe), fill: 'url(#ditherMedium)' });
  
  
  const core = make(layer, 'polygon', { points: pointsAttr(cfg.core), fill: RED, stroke: 'url(#ditherDense)', 'stroke-width': 18, 'stroke-linejoin': 'round' });
  
  
  const upperFringe = make(layer, 'polygon', { points: pointsAttr(cfg.upperFringe), fill: 'url(#ditherSparse)' });
  
  
  const upperCore = make(layer, 'polygon', { points: pointsAttr(cfg.upperCore), fill: 'url(#ditherMedium)', stroke: 'url(#ditherMedium)', 'stroke-width': 12, 'stroke-linejoin': 'round' });
  
  

  cfg.events.forEach(ev => {
    const dot = make(g, 'rect', { x: xScale(ev[0]) - 1.5, y: yScale(ev[1]) - 1.5, width: 3, height: 3, fill: RED });
    
    
  });

  const vGate = make(g, 'rect', { x: xScale(flowGatesX[idx]) - 1.5, y: 866, width: 3, height: 477, fill: '#000' });
  
  
  const hGate = make(g, 'rect', { x: cfg.left, y: yScale(flowGatesY[idx]) - 1.2, width: cfg.right - cfg.left, height: 2.4, fill: '#000' });
  
  
  const frame = make(g, 'rect', { x: cfg.left, y: 866, width: cfg.right - cfg.left, height: 477, fill: 'none', stroke: '#000', 'stroke-width': 3.5 });
  
  

  for (let d = 0; d <= 4; d++) {
    const tx = make(g, 'rect', { x: xScale(d) - 1.5, y: 1343, width: 3, height: 16, fill: '#000' });
    
    
    const ty = make(g, 'rect', { x: cfg.left - 15, y: yScale(d) - 1.5, width: 15, height: 3, fill: '#000' });
    
    

    const xBase = make(g, 'text', { x: xScale(d) - 28, y: 1398, 'font-size': 37, textLength: 36, lengthAdjust: 'spacingAndGlyphs', fill: INK }, '10');
    
    
    const xExp = make(g, 'text', { x: xScale(d) + 8, y: 1385, 'font-size': 33, textLength: 17, lengthAdjust: 'spacingAndGlyphs', fill: INK }, decadeLabels[d]);
    
    
    const yBase = make(g, 'text', { transform: 'translate(' + (cfg.left - 24) + ',' + (yScale(d) + 25) + ') rotate(-90)', 'font-size': 36, textLength: 27, lengthAdjust: 'spacingAndGlyphs', fill: INK }, '10');
    
    
    const yExp = make(g, 'text', { transform: 'translate(' + (cfg.left - 40) + ',' + (yScale(d) - 5) + ') rotate(-90)', 'font-size': 33, textLength: 23, lengthAdjust: 'spacingAndGlyphs', fill: INK }, decadeLabels[d]);
    
    

    if (d < 4) {
      for (let m = 2; m <= 9; m++) {
        const offset = Math.log10(m);
        const mx = make(g, 'rect', { x: xScale(d + offset) - 1, y: 1343, width: 2.4, height: 9, fill: '#000' });
        
        
        const my = make(g, 'rect', { x: cfg.left - 9, y: yScale(d + offset) - 1, width: 9, height: 2.4, fill: '#000' });
        
        
      }
    }
  }

  const title = make(g, 'text', { x: cfg.titleX, y: 837, 'text-anchor': 'middle', 'font-size': 52, textLength: cfg.titleLen, lengthAdjust: 'spacingAndGlyphs', fill: INK }, flowTitles[idx]);
  
  
  const xTitle = make(g, 'text', { x: cfg.xTitleX, y: 1429, 'text-anchor': 'middle', 'font-size': 31, fill: INK }, 'Annexin V');
  
  
  const yTitle = make(g, 'text', { transform: 'translate(' + (cfg.left - 68) + ',1104) rotate(-90)', 'text-anchor': 'middle', 'font-size': 33, fill: INK }, 'pi');
  
  
}

drawFlowPanel({ slug: 'normal', left: 254, right: 782, tick0: 257, tickStep: 130.3, titleX: 515, titleLen: 182, xTitleX: 519, core: normalCore, fringe: normalFringe, upperCore: normalUpperCore, upperFringe: normalUpperFringe, events: normalEvents }, 0);
drawFlowPanel({ slug: 'hr', left: 1097, right: 1626, tick0: 1100, tickStep: 130.75, titleX: 1351, titleLen: 90, xTitleX: 1361, core: hrCore, fringe: hrFringe, upperCore: hrUpperCore, upperFringe: hrUpperFringe, events: hrEvents }, 1);
drawFlowPanel({ slug: 'hr-bcf', left: 1921, right: 2449, tick0: 1924, tickStep: 130.5, titleX: 2179, titleLen: 230, xTitleX: 2184, core: hrBcfCore, fringe: hrBcfFringe, upperCore: hrBcfUpperCore, upperFringe: hrBcfUpperFringe, events: hrBcfEvents }, 2);
drawFlowPanel({ slug: 'hr-bcf-ly', left: 2733, right: 3260, tick0: 2735, tickStep: 130.25, titleX: 3001, titleLen: 328, xTitleX: 2996, core: hrBcfLyCore, fringe: hrBcfLyFringe, upperCore: hrBcfLyUpperCore, upperFringe: hrBcfLyUpperFringe, events: hrBcfLyEvents }, 3);
</script>
</body>
</html>
